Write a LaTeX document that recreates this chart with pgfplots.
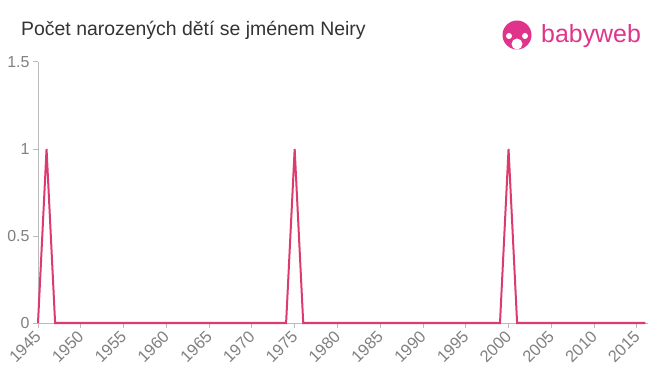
\documentclass[border=0pt]{standalone}
\usepackage{pgfplots}
\pgfplotsset{compat=1.18}
\usepackage{fontspec}
\setmainfont{Liberation Sans}
\definecolor{linec}{HTML}{DC3B6E}
\definecolor{axisc}{HTML}{BBBBBB}
\definecolor{labc}{HTML}{808080}
\definecolor{titc}{HTML}{333333}
\definecolor{logoc}{HTML}{E0338A}
\begin{document}
\begin{tikzpicture}
\useasboundingbox (0bp,0bp) rectangle (660bp,375bp);
\node[anchor=base west, text=titc, font=\fontsize{19.5}{22}\selectfont, inner sep=0] at (21bp,339bp) {Počet narozených dětí se jménem Neiry};
% logo
\fill[logoc] (517bp,340bp) circle (14.5bp);
\fill[white] (517bp,331bp) circle (5.5bp);
\fill[white] (509bp,339bp) circle (3bp);
\fill[white] (525bp,339bp) circle (3bp);
\node[anchor=base west, text=logoc, font=\fontsize{25}{26}\selectfont, inner sep=0] at (541bp,332bp) {babyweb};
\begin{axis}[
  at={(38bp,52bp)}, anchor=south west,
  scale only axis, width=610bp, height=261bp,
  xmin=1945, xmax=2016.3, ymin=0, ymax=1.5,
  axis x line=bottom, axis y line=left,
  axis line style={axisc, line width=1pt, -},
  xtick={1945,1950,...,2015},
  ytick={0,0.5,1,1.5},
  yticklabels={0,0.5,1,1.5},
  x tick label style={rotate=45, anchor=north east, text=labc, font=\fontsize{16.5}{16.5}\selectfont, inner sep=1pt, xshift=-3bp, yshift=3bp},
  y tick label style={text=labc, font=\fontsize{16}{16}\selectfont},
  xticklabel={\pgfmathprintnumber[1000 sep=]{\tick}},
  tick style={axisc, line width=1pt},
  tick align=outside,
  major tick length=5bp,
  /pgf/number format/assume math mode=true,
  /pgf/number format/1000 sep={},
  clip=false,
]
\addplot[linec, line width=2bp, line join=miter] coordinates {
(1945,0) (1946,1) (1947,0) (1974,0) (1975,1) (1976,0) (1999,0) (2000,1) (2001,0) (2016,0)
};
\end{axis}
\end{tikzpicture}
\end{document}
